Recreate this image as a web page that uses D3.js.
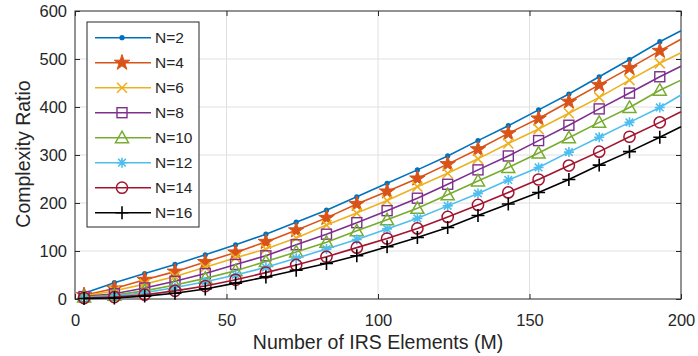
<!DOCTYPE html>
<html>
<head>
<meta charset="utf-8">
<script src="https://cdn.jsdelivr.net/npm/d3@7.9.0/dist/d3.min.js"></script>
<style>
  body { margin: 0; background: #fff; }
  svg { display: block; font-family: "Liberation Sans", Arial, sans-serif; }
</style>
</head>
<body>
<div id="chart"></div>
<script>
// ---- data ----
const mValues = [3, 13, 23, 33, 43, 53, 63, 73, 83, 93, 103, 113, 123, 133, 143, 153, 163, 173, 183, 193, 200];
const seriesNames = ['N=2', 'N=4', 'N=6', 'N=8', 'N=10', 'N=12', 'N=14', 'N=16'];
const ratioN2  = [12, 34, 53, 72, 92, 113, 135, 160, 185, 213, 241, 269, 298, 330, 361, 394, 427, 463, 499, 536, 559];
const ratioN4  = [8, 22, 40, 57, 77, 97, 119, 143, 169, 198, 224, 251, 281, 312, 345, 376, 411, 446, 481, 517, 541];
const ratioN6  = [6, 17, 31, 47, 66, 86, 104, 127, 154, 179, 205, 234, 262, 292, 324, 354, 387, 420, 456, 491, 513];
const ratioN8  = [5, 11, 23, 37, 53, 72, 90, 113, 135, 159, 184, 210, 239, 269, 298, 330, 362, 396, 429, 463, 485];
const ratioN10 = [4, 8, 17, 29, 43, 59, 78, 98, 118, 142, 165, 189, 217, 246, 274, 304, 336, 368, 399, 435, 456];
const ratioN12 = [3, 6, 13, 24, 36, 50, 66, 85, 104, 124, 146, 168, 194, 220, 248, 274, 306, 337, 368, 399, 425];
const ratioN14 = [2, 4, 9, 17, 27, 40, 55, 71, 88, 107, 126, 147, 171, 196, 222, 249, 278, 307, 338, 368, 390];
const ratioN16 = [1, 2, 6, 12, 21, 33, 46, 60, 74, 90, 109, 128, 149, 174, 198, 222, 249, 279, 307, 337, 359];
const allRatios = [ratioN2, ratioN4, ratioN6, ratioN8, ratioN10, ratioN12, ratioN14, ratioN16];
const xTicks = [0, 50, 100, 150, 200];
const yTicks = [0, 100, 200, 300, 400, 500, 600];

// ---- look ----
const colors  = ['#0072BD', '#D95319', '#EDB120', '#7E2F8E', '#77AC30', '#4DBEEE', '#A2142F', '#000000'];
const markers = ['dot', 'star', 'x', 'square', 'triangle', 'asterisk', 'circle', 'plus'];

const width = 698, height = 356;
const box = { left: 75, right: 681, top: 11, bottom: 299 };

const svg = d3.select('#chart').append('svg')
  .attr('width', width).attr('height', height);

const x = d3.scaleLinear().domain([0, 200]).range([box.left, box.right]);
const y = d3.scaleLinear().domain([0, 600]).range([box.bottom, box.top]);

// grid
const grid = svg.append('g');
grid.selectAll('.gx').data(xTicks.slice(1, -1)).join('line')
  .attr('x1', d => x(d)).attr('x2', d => x(d))
  .attr('y1', box.top).attr('y2', box.bottom)
  .attr('stroke', '#e0e0e0').attr('stroke-width', 1);
grid.selectAll('.gy').data(yTicks.slice(1, -1)).join('line')
  .attr('y1', d => y(d)).attr('y2', d => y(d))
  .attr('x1', box.left).attr('x2', box.right)
  .attr('stroke', '#e0e0e0').attr('stroke-width', 1);

// axes
const axisColor = '#262626';
svg.append('g').attr('transform', `translate(0,${box.bottom})`)
  .call(d3.axisBottom(x).tickValues(xTicks).tickSizeInner(-5).tickSizeOuter(0).tickPadding(15));
svg.append('g').attr('transform', `translate(${box.left},0)`)
  .call(d3.axisLeft(y).tickValues(yTicks).tickSizeInner(-5).tickSizeOuter(0).tickPadding(8));
// top / right tick marks
svg.append('g').attr('transform', `translate(0,${box.top})`)
  .call(d3.axisTop(x).tickValues(xTicks).tickSizeInner(-5).tickSizeOuter(0).tickFormat(''));
svg.append('g').attr('transform', `translate(${box.right},0)`)
  .call(d3.axisRight(y).tickValues(yTicks).tickSizeInner(-5).tickSizeOuter(0).tickFormat(''));
svg.selectAll('.domain').attr('stroke', 'none');
svg.selectAll('.tick line').attr('stroke', axisColor);
svg.selectAll('.tick text').attr('fill', axisColor).style('font-size', '16.5px')
  .style('font-family', '"Liberation Sans", Arial, sans-serif');

svg.append('rect')
  .attr('x', box.left).attr('y', box.top)
  .attr('width', box.right - box.left).attr('height', box.bottom - box.top)
  .attr('fill', 'none').attr('stroke', axisColor).attr('stroke-width', 1);

// labels
svg.append('text')
  .attr('x', (box.left + box.right) / 2).attr('y', 349)
  .attr('text-anchor', 'middle').attr('fill', axisColor)
  .style('font-size', '19.5px')
  .text('Number of IRS Elements (M)');
svg.append('text')
  .attr('transform', 'translate(30,154) rotate(-90)')
  .attr('text-anchor', 'middle').attr('fill', axisColor)
  .style('font-size', '19.5px')
  .text('Complexity Ratio');

// marker drawing
function drawMarker(g, type, color) {
  const s = 5;
  switch (type) {
    case 'dot':
      g.append('circle').attr('r', 2.6).attr('fill', color);
      break;
    case 'star':
      g.append('path').attr('d', d3.symbol(d3.symbolStar, 75)())
        .attr('fill', color).attr('stroke', color).attr('stroke-width', 1);
      break;
    case 'x':
      g.append('path').attr('d', `M${-s},${-s}L${s},${s}M${-s},${s}L${s},${-s}`)
        .attr('stroke', color).attr('stroke-width', 1.6).attr('fill', 'none');
      break;
    case 'square':
      g.append('rect').attr('x', -5).attr('y', -5).attr('width', 10).attr('height', 10)
        .attr('stroke', color).attr('stroke-width', 1.4).attr('fill', 'none');
      break;
    case 'triangle':
      g.append('path').attr('d', 'M0,-6.5L6.5,5L-6.5,5Z')
        .attr('stroke', color).attr('stroke-width', 1.5).attr('fill', 'none');
      break;
    case 'asterisk':
      g.append('path').attr('d', `M${-s},0L${s},0M0,${-s}L0,${s}M-3.8,-3.8L3.8,3.8M-3.8,3.8L3.8,-3.8`)
        .attr('stroke', color).attr('stroke-width', 1.6).attr('fill', 'none');
      break;
    case 'circle':
      g.append('circle').attr('r', 5.6)
        .attr('stroke', color).attr('stroke-width', 1.5).attr('fill', 'none');
      break;
    case 'plus':
      g.append('path').attr('d', 'M-6.5,0L6.5,0M0,-6.5L0,6.5')
        .attr('stroke', color).attr('stroke-width', 1.6).attr('fill', 'none');
      break;
  }
}

const line = d3.line().x(d => x(d.m)).y(d => y(d.v));

allRatios.forEach((vals, i) => {
  const pts = mValues.map((m, j) => ({ m, v: vals[j] }));
  const g = svg.append('g');
  g.append('path').datum(pts).attr('d', line)
    .attr('fill', 'none').attr('stroke', colors[i]).attr('stroke-width', 1.6);
  // markers every 10 (last point at 200 has none)
  pts.slice(0, -1).forEach(p => {
    const mg = g.append('g').attr('transform', `translate(${x(p.m)},${y(p.v)})`);
    drawMarker(mg, markers[i], colors[i]);
  });
});

// legend
const leg = svg.append('g');
leg.append('rect').attr('x', 87).attr('y', 22).attr('width', 112).attr('height', 205)
  .attr('fill', '#fff').attr('stroke', axisColor).attr('stroke-width', 1);
seriesNames.forEach((name, i) => {
  const ly = 37.7 + i * 25;
  leg.append('line').attr('x1', 95).attr('x2', 151).attr('y1', ly).attr('y2', ly)
    .attr('stroke', colors[i]).attr('stroke-width', 1.6);
  const mg = leg.append('g').attr('transform', `translate(122,${ly})`);
  drawMarker(mg, markers[i], colors[i]);
  leg.append('text').attr('x', 155).attr('y', ly + 5.5)
    .attr('fill', axisColor).style('font-size', '15.5px').text(name);
});
</script>
</body>
</html>
